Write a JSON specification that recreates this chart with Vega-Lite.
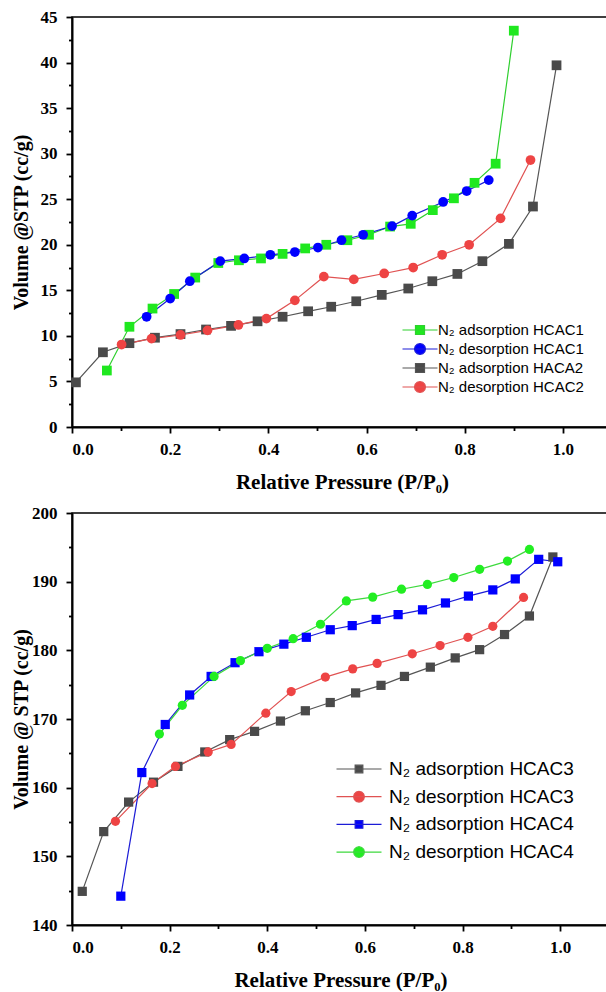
{
  "$schema": "https://vega.github.io/schema/vega-lite/v6.json",
  "padding": {"left": 10, "top": 7, "right": 0, "bottom": 0},
  "background": "#ffffff",
  "config": {
    "view": {"stroke": "#000000", "strokeWidth": 1.5},
    "axis": {
      "grid": false,
      "domainColor": "#000000",
      "domainWidth": 2,
      "tickColor": "#000000",
      "tickWidth": 1.8,
      "labelFont": "Liberation Serif",
      "labelFontWeight": "bold",
      "labelFontSize": 17,
      "labelColor": "#000000",
      "labelOverlap": false,
      "titleFont": "Liberation Serif",
      "titleFontWeight": "bold",
      "titleFontSize": 21,
      "titleColor": "#000000"
    },
    "legend": {"labelFont": "Liberation Sans", "labelColor": "#000000", "labelLimit": 400}
  },
  "datasets": {
    "top": [
      {"s": "N₂ adsorption HCAC1", "p": 0.071, "v": 6.2},
      {"s": "N₂ adsorption HCAC1", "p": 0.117, "v": 11.0},
      {"s": "N₂ adsorption HCAC1", "p": 0.164, "v": 13.0},
      {"s": "N₂ adsorption HCAC1", "p": 0.208, "v": 14.6},
      {"s": "N₂ adsorption HCAC1", "p": 0.251, "v": 16.4},
      {"s": "N₂ adsorption HCAC1", "p": 0.298, "v": 18.0},
      {"s": "N₂ adsorption HCAC1", "p": 0.340, "v": 18.3},
      {"s": "N₂ adsorption HCAC1", "p": 0.385, "v": 18.5},
      {"s": "N₂ adsorption HCAC1", "p": 0.429, "v": 19.0},
      {"s": "N₂ adsorption HCAC1", "p": 0.475, "v": 19.6},
      {"s": "N₂ adsorption HCAC1", "p": 0.518, "v": 20.0},
      {"s": "N₂ adsorption HCAC1", "p": 0.561, "v": 20.5},
      {"s": "N₂ adsorption HCAC1", "p": 0.605, "v": 21.1},
      {"s": "N₂ adsorption HCAC1", "p": 0.648, "v": 22.0},
      {"s": "N₂ adsorption HCAC1", "p": 0.690, "v": 22.3},
      {"s": "N₂ adsorption HCAC1", "p": 0.735, "v": 23.8},
      {"s": "N₂ adsorption HCAC1", "p": 0.778, "v": 25.1},
      {"s": "N₂ adsorption HCAC1", "p": 0.820, "v": 26.8},
      {"s": "N₂ adsorption HCAC1", "p": 0.863, "v": 28.9},
      {"s": "N₂ adsorption HCAC1", "p": 0.900, "v": 43.5},
      {"s": "N₂ desorption HCAC1", "p": 0.152, "v": 12.1},
      {"s": "N₂ desorption HCAC1", "p": 0.200, "v": 14.1},
      {"s": "N₂ desorption HCAC1", "p": 0.240, "v": 16.0},
      {"s": "N₂ desorption HCAC1", "p": 0.302, "v": 18.2},
      {"s": "N₂ desorption HCAC1", "p": 0.351, "v": 18.5},
      {"s": "N₂ desorption HCAC1", "p": 0.404, "v": 18.9},
      {"s": "N₂ desorption HCAC1", "p": 0.454, "v": 19.2},
      {"s": "N₂ desorption HCAC1", "p": 0.501, "v": 19.7},
      {"s": "N₂ desorption HCAC1", "p": 0.549, "v": 20.5},
      {"s": "N₂ desorption HCAC1", "p": 0.593, "v": 21.1},
      {"s": "N₂ desorption HCAC1", "p": 0.652, "v": 22.05},
      {"s": "N₂ desorption HCAC1", "p": 0.693, "v": 23.2},
      {"s": "N₂ desorption HCAC1", "p": 0.756, "v": 24.7},
      {"s": "N₂ desorption HCAC1", "p": 0.804, "v": 25.9},
      {"s": "N₂ desorption HCAC1", "p": 0.849, "v": 27.1},
      {"s": "N₂ adsorption HACA2", "p": 0.008, "v": 4.9},
      {"s": "N₂ adsorption HACA2", "p": 0.063, "v": 8.2},
      {"s": "N₂ adsorption HACA2", "p": 0.117, "v": 9.2},
      {"s": "N₂ adsorption HACA2", "p": 0.169, "v": 9.8},
      {"s": "N₂ adsorption HACA2", "p": 0.221, "v": 10.2},
      {"s": "N₂ adsorption HACA2", "p": 0.273, "v": 10.7},
      {"s": "N₂ adsorption HACA2", "p": 0.324, "v": 11.1},
      {"s": "N₂ adsorption HACA2", "p": 0.378, "v": 11.6},
      {"s": "N₂ adsorption HACA2", "p": 0.429, "v": 12.1},
      {"s": "N₂ adsorption HACA2", "p": 0.481, "v": 12.7},
      {"s": "N₂ adsorption HACA2", "p": 0.528, "v": 13.2},
      {"s": "N₂ adsorption HACA2", "p": 0.579, "v": 13.8},
      {"s": "N₂ adsorption HACA2", "p": 0.631, "v": 14.5},
      {"s": "N₂ adsorption HACA2", "p": 0.685, "v": 15.2},
      {"s": "N₂ adsorption HACA2", "p": 0.734, "v": 16.0},
      {"s": "N₂ adsorption HACA2", "p": 0.785, "v": 16.8},
      {"s": "N₂ adsorption HACA2", "p": 0.836, "v": 18.2},
      {"s": "N₂ adsorption HACA2", "p": 0.890, "v": 20.1},
      {"s": "N₂ adsorption HACA2", "p": 0.939, "v": 24.2},
      {"s": "N₂ adsorption HACA2", "p": 0.987, "v": 39.7},
      {"s": "N₂ desorption HCAC2", "p": 0.101, "v": 9.05},
      {"s": "N₂ desorption HCAC2", "p": 0.162, "v": 9.7},
      {"s": "N₂ desorption HCAC2", "p": 0.221, "v": 10.1},
      {"s": "N₂ desorption HCAC2", "p": 0.276, "v": 10.6},
      {"s": "N₂ desorption HCAC2", "p": 0.339, "v": 11.2},
      {"s": "N₂ desorption HCAC2", "p": 0.396, "v": 11.9},
      {"s": "N₂ desorption HCAC2", "p": 0.454, "v": 13.9},
      {"s": "N₂ desorption HCAC2", "p": 0.513, "v": 16.5},
      {"s": "N₂ desorption HCAC2", "p": 0.574, "v": 16.2},
      {"s": "N₂ desorption HCAC2", "p": 0.636, "v": 16.85},
      {"s": "N₂ desorption HCAC2", "p": 0.695, "v": 17.5},
      {"s": "N₂ desorption HCAC2", "p": 0.754, "v": 18.9},
      {"s": "N₂ desorption HCAC2", "p": 0.809, "v": 20.0},
      {"s": "N₂ desorption HCAC2", "p": 0.873, "v": 22.9},
      {"s": "N₂ desorption HCAC2", "p": 0.934, "v": 29.3}
    ],
    "bottom": [
      {"s": "N₂ adsorption HCAC3", "p": 0.021, "v": 144.9},
      {"s": "N₂ adsorption HCAC3", "p": 0.065, "v": 153.6},
      {"s": "N₂ adsorption HCAC3", "p": 0.116, "v": 157.9},
      {"s": "N₂ adsorption HCAC3", "p": 0.167, "v": 160.8},
      {"s": "N₂ adsorption HCAC3", "p": 0.217, "v": 163.1},
      {"s": "N₂ adsorption HCAC3", "p": 0.272, "v": 165.2},
      {"s": "N₂ adsorption HCAC3", "p": 0.323, "v": 167.0},
      {"s": "N₂ adsorption HCAC3", "p": 0.374, "v": 168.2},
      {"s": "N₂ adsorption HCAC3", "p": 0.427, "v": 169.7},
      {"s": "N₂ adsorption HCAC3", "p": 0.478, "v": 171.2},
      {"s": "N₂ adsorption HCAC3", "p": 0.529, "v": 172.4},
      {"s": "N₂ adsorption HCAC3", "p": 0.581, "v": 173.8},
      {"s": "N₂ adsorption HCAC3", "p": 0.633, "v": 174.9},
      {"s": "N₂ adsorption HCAC3", "p": 0.681, "v": 176.2},
      {"s": "N₂ adsorption HCAC3", "p": 0.734, "v": 177.55},
      {"s": "N₂ adsorption HCAC3", "p": 0.785, "v": 178.9},
      {"s": "N₂ adsorption HCAC3", "p": 0.835, "v": 180.1},
      {"s": "N₂ adsorption HCAC3", "p": 0.886, "v": 182.3},
      {"s": "N₂ adsorption HCAC3", "p": 0.937, "v": 185.0},
      {"s": "N₂ adsorption HCAC3", "p": 0.985, "v": 193.6},
      {"s": "N₂ desorption HCAC3", "p": 0.089, "v": 155.1},
      {"s": "N₂ desorption HCAC3", "p": 0.164, "v": 160.6},
      {"s": "N₂ desorption HCAC3", "p": 0.212, "v": 163.1},
      {"s": "N₂ desorption HCAC3", "p": 0.279, "v": 165.2},
      {"s": "N₂ desorption HCAC3", "p": 0.326, "v": 166.3},
      {"s": "N₂ desorption HCAC3", "p": 0.397, "v": 170.85},
      {"s": "N₂ desorption HCAC3", "p": 0.449, "v": 174.0},
      {"s": "N₂ desorption HCAC3", "p": 0.519, "v": 176.1},
      {"s": "N₂ desorption HCAC3", "p": 0.575, "v": 177.3},
      {"s": "N₂ desorption HCAC3", "p": 0.625, "v": 178.1},
      {"s": "N₂ desorption HCAC3", "p": 0.697, "v": 179.5},
      {"s": "N₂ desorption HCAC3", "p": 0.754, "v": 180.7},
      {"s": "N₂ desorption HCAC3", "p": 0.811, "v": 181.9},
      {"s": "N₂ desorption HCAC3", "p": 0.862, "v": 183.5},
      {"s": "N₂ desorption HCAC3", "p": 0.925, "v": 187.7},
      {"s": "N₂ adsorption HCAC4", "p": 0.100, "v": 144.2},
      {"s": "N₂ adsorption HCAC4", "p": 0.143, "v": 162.2},
      {"s": "N₂ adsorption HCAC4", "p": 0.191, "v": 169.2},
      {"s": "N₂ adsorption HCAC4", "p": 0.241, "v": 173.5},
      {"s": "N₂ adsorption HCAC4", "p": 0.285, "v": 176.2},
      {"s": "N₂ adsorption HCAC4", "p": 0.334, "v": 178.2},
      {"s": "N₂ adsorption HCAC4", "p": 0.383, "v": 179.8},
      {"s": "N₂ adsorption HCAC4", "p": 0.434, "v": 180.9},
      {"s": "N₂ adsorption HCAC4", "p": 0.480, "v": 181.9},
      {"s": "N₂ adsorption HCAC4", "p": 0.529, "v": 183.0},
      {"s": "N₂ adsorption HCAC4", "p": 0.574, "v": 183.6},
      {"s": "N₂ adsorption HCAC4", "p": 0.623, "v": 184.5},
      {"s": "N₂ adsorption HCAC4", "p": 0.668, "v": 185.2},
      {"s": "N₂ adsorption HCAC4", "p": 0.718, "v": 185.9},
      {"s": "N₂ adsorption HCAC4", "p": 0.765, "v": 186.9},
      {"s": "N₂ adsorption HCAC4", "p": 0.812, "v": 187.9},
      {"s": "N₂ adsorption HCAC4", "p": 0.862, "v": 188.8},
      {"s": "N₂ adsorption HCAC4", "p": 0.908, "v": 190.4},
      {"s": "N₂ adsorption HCAC4", "p": 0.956, "v": 193.25},
      {"s": "N₂ adsorption HCAC4", "p": 0.995, "v": 192.9},
      {"s": "N₂ desorption HCAC4", "p": 0.179, "v": 167.8},
      {"s": "N₂ desorption HCAC4", "p": 0.226, "v": 172.0},
      {"s": "N₂ desorption HCAC4", "p": 0.291, "v": 176.2},
      {"s": "N₂ desorption HCAC4", "p": 0.345, "v": 178.5},
      {"s": "N₂ desorption HCAC4", "p": 0.400, "v": 180.3},
      {"s": "N₂ desorption HCAC4", "p": 0.453, "v": 181.7},
      {"s": "N₂ desorption HCAC4", "p": 0.509, "v": 183.8},
      {"s": "N₂ desorption HCAC4", "p": 0.562, "v": 187.2},
      {"s": "N₂ desorption HCAC4", "p": 0.616, "v": 187.75},
      {"s": "N₂ desorption HCAC4", "p": 0.675, "v": 188.9},
      {"s": "N₂ desorption HCAC4", "p": 0.728, "v": 189.6},
      {"s": "N₂ desorption HCAC4", "p": 0.782, "v": 190.6},
      {"s": "N₂ desorption HCAC4", "p": 0.835, "v": 191.8},
      {"s": "N₂ desorption HCAC4", "p": 0.892, "v": 193.0},
      {"s": "N₂ desorption HCAC4", "p": 0.937, "v": 194.7}
    ]
  },
  "spacing": 10,
  "vconcat": [
    {
      "width": 540,
      "height": 410,
      "data": {"name": "top"},
      "layer": [
        {
          "mark": {"type": "line", "strokeWidth": 1.2},
          "encoding": {
            "x": {"field": "p", "type": "quantitative", "scale": {"domain": [0, 1.1], "nice": false, "zero": false},
              "axis": {"values": [0, 0.2, 0.4, 0.6, 0.8, 1.0], "format": ".1f", "tickSize": 6, "labelPadding": 8, "title": "Relative Pressure (P/P₀)", "titlePadding": 14, "orient": "bottom"}},
            "y": {"field": "v", "type": "quantitative", "scale": {"domain": [0, 45], "nice": false, "zero": false},
              "axis": {"values": [0, 5, 10, 15, 20, 25, 30, 35, 40, 45], "tickSize": 6, "labelPadding": 9, "title": "Volume @STP (cc/g)", "titlePadding": 9, "titleFontSize": 20, "orient": "left"}},
            "stroke": {"field": "s", "type": "nominal",
              "scale": {"domain": ["N₂ adsorption HCAC1", "N₂ desorption HCAC1", "N₂ adsorption HACA2", "N₂ desorption HCAC2"],
                "range": ["#2fcf2f", "#1c1cd6", "#555555", "#e05252"]},
              "legend": {"title": null, "orient": "none", "legendX": 337, "legendY": 302, "labelFontSize": 15, "symbolSize": 400, "labelOffset": 7, "rowPadding": -1.1,
                "encoding": {"symbols": {
                  "shape": {"value": {"expr": "indexof(datum.value, 'adsorption') >= 0 ? 'M-1.75,0H1.75M-0.45,-0.45H0.45V0.45H-0.45Z' : 'M-1.75,0H1.75M-0.55,0L-0.48,0.28L-0.28,0.48L0,0.55L0.28,0.48L0.48,0.28L0.55,0L0.48,-0.28L0.28,-0.48L0,-0.55L-0.28,-0.48L-0.48,-0.28Z'"}},
                  "strokeWidth": {"value": 1.2},
                  "opacity": {"value": 1}
                }}}}
          }
        },
        {
          "mark": {"type": "point", "filled": true, "opacity": 1, "strokeWidth": 0, "size": 95},
          "encoding": {
            "x": {"field": "p", "type": "quantitative",
              "axis": {"values": [0.1, 0.3, 0.5, 0.7, 0.9, 1.1], "labels": false, "domain": false, "tickSize": 3.5, "title": null, "orient": "bottom"}},
            "y": {"field": "v", "type": "quantitative",
              "axis": {"values": [2.5, 7.5, 12.5, 17.5, 22.5, 27.5, 32.5, 37.5, 42.5], "labels": false, "domain": false, "tickSize": 3.5, "title": null, "orient": "left"}},
            "fill": {"field": "s", "type": "nominal",
              "scale": {"domain": ["N₂ adsorption HCAC1", "N₂ desorption HCAC1", "N₂ adsorption HACA2", "N₂ desorption HCAC2"],
                "range": ["#1fe81f", "#0000ff", "#4a4a4a", "#ee4444"]},
              "legend": {"title": null, "orient": "none", "legendX": 337, "legendY": 302, "labelFontSize": 15, "symbolSize": 400, "labelOffset": 7, "rowPadding": -1.1}},
            "shape": {"field": "s", "type": "nominal", "legend": null,
              "scale": {"domain": ["N₂ desorption HCAC1", "N₂ adsorption HCAC1", "N₂ desorption HCAC2", "N₂ adsorption HACA2"],
                "range": ["circle", "square", "circle", "square"]}}
          }
        }
      ],
      "resolve": {"axis": {"x": "independent", "y": "independent"}}
    },
    {
      "width": 537,
      "height": 412,
      "data": {"name": "bottom"},
      "layer": [
        {
          "mark": {"type": "line", "strokeWidth": 1.2},
          "encoding": {
            "x": {"field": "p", "type": "quantitative", "scale": {"domain": [0, 1.1], "nice": false, "zero": false},
              "axis": {"values": [0, 0.2, 0.4, 0.6, 0.8, 1.0], "format": ".1f", "tickSize": 6, "labelPadding": 8, "title": "Relative Pressure (P/P₀)", "titlePadding": 14, "orient": "bottom"}},
            "y": {"field": "v", "type": "quantitative", "scale": {"domain": [140, 200], "nice": false, "zero": false},
              "axis": {"values": [140, 150, 160, 170, 180, 190, 200], "tickSize": 6, "labelPadding": 9, "title": "Volume @ STP (cc/g)", "titlePadding": 0, "titleFontSize": 20, "orient": "left"}},
            "stroke": {"field": "s", "type": "nominal",
              "scale": {"domain": ["N₂ adsorption HCAC3", "N₂ desorption HCAC3", "N₂ adsorption HCAC4", "N₂ desorption HCAC4"],
                "range": ["#555555", "#e05252", "#1c1cd6", "#3ed93e"]},
              "legend": {"title": null, "orient": "none", "legendX": 274, "legendY": 243, "labelFontSize": 19, "symbolSize": 576, "labelOffset": 17, "rowPadding": 4.7,
                "encoding": {"symbols": {
                  "shape": {"value": {"expr": "indexof(datum.value, 'adsorption') >= 0 ? 'M-1.875,0H1.875M-0.32,-0.32H0.32V0.32H-0.32Z' : 'M-1.875,0H1.875M-0.45,0L-0.39,0.225L-0.225,0.39L0,0.45L0.225,0.39L0.39,0.225L0.45,0L0.39,-0.225L0.225,-0.39L0,-0.45L-0.225,-0.39L-0.39,-0.225Z'"}},
                  "strokeWidth": {"value": 1.2},
                  "opacity": {"value": 1}
                }}}}
          }
        },
        {
          "mark": {"type": "point", "filled": true, "opacity": 1, "strokeWidth": 0, "size": 85},
          "encoding": {
            "x": {"field": "p", "type": "quantitative",
              "axis": {"values": [0.1, 0.3, 0.5, 0.7, 0.9, 1.1], "labels": false, "domain": false, "tickSize": 3.5, "title": null, "orient": "bottom"}},
            "y": {"field": "v", "type": "quantitative",
              "axis": {"values": [145, 155, 165, 175, 185, 195], "labels": false, "domain": false, "tickSize": 3.5, "title": null, "orient": "left"}},
            "fill": {"field": "s", "type": "nominal",
              "scale": {"domain": ["N₂ adsorption HCAC3", "N₂ desorption HCAC3", "N₂ adsorption HCAC4", "N₂ desorption HCAC4"],
                "range": ["#4a4a4a", "#ee4444", "#0000ff", "#22ee22"]},
              "legend": {"title": null, "orient": "none", "legendX": 274, "legendY": 243, "labelFontSize": 19, "symbolSize": 576, "labelOffset": 17, "rowPadding": 4.7}},
            "shape": {"field": "s", "type": "nominal", "legend": null,
              "scale": {"domain": ["N₂ desorption HCAC3", "N₂ adsorption HCAC3", "N₂ desorption HCAC4", "N₂ adsorption HCAC4"],
                "range": ["circle", "square", "circle", "square"]}}
          }
        }
      ],
      "resolve": {"axis": {"x": "independent", "y": "independent"}}
    }
  ],
  "resolve": {"scale": {"x": "independent", "y": "independent", "fill": "independent", "stroke": "independent", "shape": "independent"}, "legend": {"fill": "independent", "stroke": "independent", "shape": "independent"}}
}
